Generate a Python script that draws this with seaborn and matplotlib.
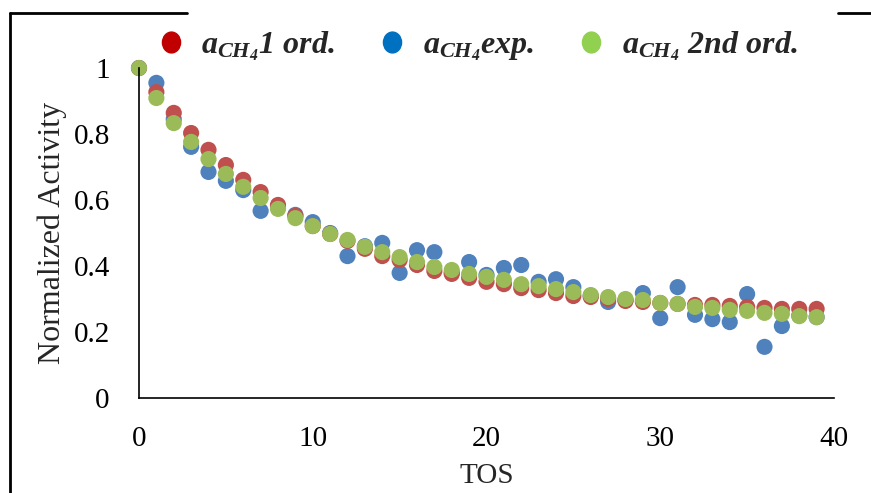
import numpy as np
import pandas as pd
import matplotlib
matplotlib.use("Agg")
import matplotlib.pyplot as plt
from matplotlib.lines import Line2D
from matplotlib.path import Path
import seaborn as sns

# TOS (x) and the three normalized-activity series
tos = list(range(40))
act_1ord = [1.0, 0.927, 0.864, 0.803, 0.752, 0.706, 0.661, 0.624, 0.585, 0.552,
            0.521, 0.497, 0.476, 0.452, 0.430, 0.418, 0.403, 0.385, 0.376, 0.364,
            0.352, 0.345, 0.333, 0.327, 0.318, 0.309, 0.306, 0.300, 0.294, 0.291,
            0.288, 0.285, 0.282, 0.282, 0.279, 0.276, 0.273, 0.270, 0.270, 0.270]
act_exp = [1.0, 0.955, 0.845, 0.761, 0.685, 0.658, 0.630, 0.567, 0.580, 0.555,
           0.533, 0.500, 0.430, 0.460, 0.470, 0.379, 0.448, 0.442, 0.380, 0.412,
           0.373, 0.394, 0.403, 0.352, 0.360, 0.336, 0.310, 0.291, 0.297, 0.318,
           0.242, 0.336, 0.252, 0.239, 0.230, 0.315, 0.155, 0.218, 0.250, 0.245]
act_2ord = [1.0, 0.909, 0.833, 0.776, 0.724, 0.679, 0.640, 0.606, 0.573, 0.545,
            0.521, 0.497, 0.479, 0.458, 0.442, 0.427, 0.412, 0.397, 0.388, 0.376,
            0.367, 0.358, 0.345, 0.339, 0.330, 0.321, 0.312, 0.306, 0.300, 0.297,
            0.288, 0.285, 0.276, 0.273, 0.267, 0.264, 0.258, 0.255, 0.248, 0.245]

labels = [r"$a_{CH_4}1\ ord.$", r"$a_{CH_4}exp.$", r"$a_{CH_4}\ 2nd\ ord.$"]

# long format, blue drawn first, then red, then green on top
df = pd.concat([
    pd.DataFrame({"TOS": tos, "act": act_exp, "series": "exp"}),
    pd.DataFrame({"TOS": tos, "act": act_1ord, "series": "1ord"}),
    pd.DataFrame({"TOS": tos, "act": act_2ord, "series": "2ord"}),
], ignore_index=True)
palette = {"1ord": "#C0504D", "exp": "#4F81BD", "2ord": "#9BBB59"}

sns.set_style("white")
plt.rcParams["font.family"] = ["Liberation Serif", "DejaVu Serif"]
plt.rcParams["mathtext.fontset"] = "custom"
plt.rcParams["mathtext.it"] = "Liberation Serif:italic:bold"
plt.rcParams["mathtext.rm"] = "Liberation Serif:italic:bold"
plt.rcParams["mathtext.bf"] = "Liberation Serif:italic:bold"

fig = plt.figure(figsize=(8.71, 4.93), dpi=100)
ax = fig.add_axes([139 / 871, 1 - 398 / 493, (834 - 139) / 871, (398 - 68) / 493])

sns.scatterplot(data=df, x="TOS", y="act", hue="series", palette=palette,
                s=135, linewidth=0, alpha=1, legend=False, ax=ax, clip_on=False)

ax.set_xlim(0, 40)
ax.set_ylim(0, 1)
ax.set_xticks([0, 10, 20, 30, 40])
ax.set_yticks([0, 0.2, 0.4, 0.6, 0.8, 1])
ax.set_yticklabels(["0", "0.2", "0.4", "0.6", "0.8", "1"])
ax.tick_params(axis="both", length=0, labelsize=21, colors="black")
ax.tick_params(axis="y", pad=21)
ax.tick_params(axis="x", pad=20)
ax.set_xlabel("TOS", fontsize=21, labelpad=8)
ax.set_ylabel("Normalized Activity", fontsize=23, labelpad=5)
for side in ["top", "right"]:
    ax.spines[side].set_visible(False)
for side in ["left", "bottom"]:
    ax.spines[side].set_color("black")
    ax.spines[side].set_linewidth(1.2)

# legend with slightly tall oval markers
circ = Path.unit_circle()
oval = Path(circ.vertices * np.array([1.0, 1.15]), circ.codes)
handles = [Line2D([], [], linestyle="none", marker=oval, markersize=15, color=c)
           for c in ["#C00000", "#0070C0", "#92D050"]]
fig.legend(handles, labels, loc="center", bbox_to_anchor=(476 / 871, 1 - 46 / 493),
           ncol=3, frameon=False, fontsize=23, handletextpad=0.45,
           columnspacing=1.3, handlelength=1.0)

# partial outer frame
frame_y = 1 - 13 / 493
fig.add_artist(Line2D([9.5 / 871, 9.5 / 871], [0, frame_y], color="black", lw=2))
fig.add_artist(Line2D([9.5 / 871, 187 / 871], [frame_y, frame_y], color="black", lw=2))
fig.add_artist(Line2D([838 / 871, 1], [frame_y, frame_y], color="black", lw=2))

fig.savefig("out.png", dpi=100)
